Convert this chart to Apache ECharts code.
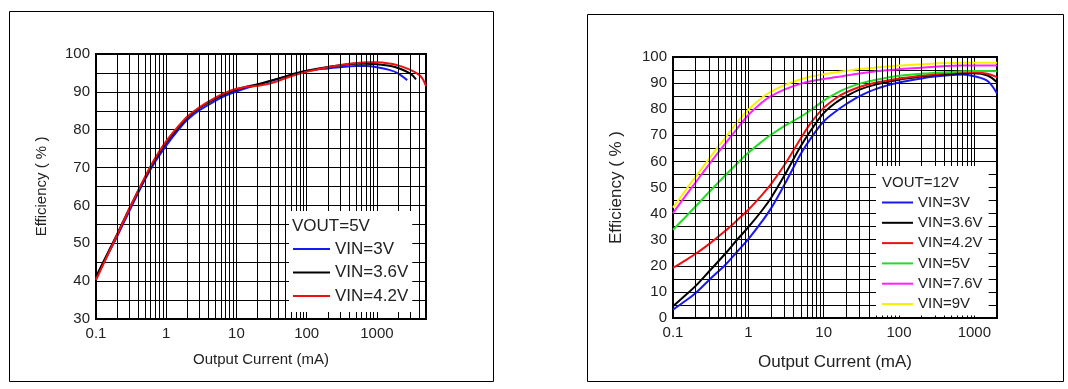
<!DOCTYPE html>
<html><head><meta charset="utf-8">
<script src="https://cdn.jsdelivr.net/npm/echarts@6/dist/echarts.min.js"></script>
<style>html,body{margin:0;padding:0;background:#fff}#c{width:1068px;height:389px}</style>
</head><body><div id="c"></div>
<script>
// ---------- Left chart: VOUT = 5V ----------
const leftCurrent = [0.1, 0.15, 0.2, 0.3, 0.5, 0.7, 1, 1.5, 2, 3, 5, 7, 10, 15, 20, 30, 50, 70, 100, 200, 300, 500, 700, 1000, 1500, 2000, 3000, 4000, 4500, 5000];
const left_VIN42 = [40.3, 47.3, 52.2, 59.2, 67.6, 72.6, 77.0, 81.0, 83.5, 86.0, 88.5, 89.8, 90.8, 91.4, 91.6, 92.2, 93.6, 94.5, 95.3, 96.5, 97.1, 97.6, 97.8, 97.8, 97.5, 97.0, 95.8, 94.5, 93.4, 91.5];
const leftCurrent36 = [0.1, 0.15, 0.2, 0.3, 0.5, 0.7, 1, 1.5, 2, 3, 5, 7, 10, 15, 20, 30, 50, 70, 100, 200, 300, 500, 700, 1000, 1500, 2000, 3000, 3600];
const left_VIN36 = [41.2, 47.8, 52.4, 59.3, 67.4, 72.3, 76.6, 80.6, 83.2, 85.8, 88.2, 89.5, 90.6, 91.5, 92.0, 92.9, 94.1, 94.9, 95.6, 96.6, 97.0, 97.4, 97.4, 97.3, 96.9, 96.3, 94.8, 93.3];
const leftCurrent3 = [0.1, 0.15, 0.2, 0.3, 0.5, 0.7, 1, 1.5, 2, 3, 5, 7, 10, 15, 20, 30, 50, 70, 100, 200, 300, 500, 700, 1000, 1500, 2000, 2700];
const left_VIN3 = [40.8, 47.3, 51.8, 58.6, 66.9, 71.6, 75.8, 80.0, 82.6, 85.2, 87.6, 89.0, 90.1, 91.2, 91.8, 92.8, 94.0, 94.8, 95.5, 96.2, 96.5, 96.8, 96.8, 96.5, 95.8, 94.9, 93.1];

// ---------- Right chart: VOUT = 12V ----------
const rightCurrent = [0.1, 0.15, 0.2, 0.3, 0.5, 0.7, 1, 1.5, 2, 3, 5, 7, 10, 15, 20, 30, 50, 100, 200, 300, 500, 700, 1000, 1500, 2000];
const right_VIN3  = [3.2, 6.8, 9.6, 14.5, 20.5, 25.2, 30.2, 36.8, 42.0, 51.0, 63.0, 69.5, 75.3, 79.5, 82.0, 85.0, 87.8, 90.2, 91.8, 92.5, 93.1, 93.3, 92.6, 90.8, 86.0];
const right_VIN36 = [4.5, 9.0, 12.3, 17.8, 24.8, 29.8, 34.8, 41.0, 46.0, 54.5, 66.0, 72.5, 78.5, 82.8, 85.0, 87.5, 89.5, 91.3, 92.5, 93.1, 93.6, 93.8, 93.8, 92.9, 90.3];
const right_VIN42 = [19.2, 22.3, 24.6, 28.3, 33.5, 37.3, 41.5, 47.0, 51.3, 58.5, 69.0, 75.3, 80.5, 84.5, 86.5, 88.5, 90.2, 91.8, 92.8, 93.4, 93.9, 94.2, 94.2, 93.6, 92.3];
const right_VIN5  = [33.8, 39.0, 42.8, 48.2, 54.8, 59.0, 63.3, 67.5, 70.2, 73.5, 77.2, 80.0, 83.3, 86.3, 88.0, 89.8, 91.3, 92.8, 93.6, 94.0, 94.3, 94.5, 94.6, 94.6, 94.5];
const right_VIN76 = [40.2, 47.2, 52.0, 58.8, 67.0, 72.3, 77.8, 82.5, 85.0, 87.5, 89.8, 90.8, 91.6, 92.3, 92.9, 93.7, 94.5, 95.3, 95.9, 96.3, 96.6, 96.7, 96.7, 96.7, 96.7];
const right_VIN9  = [42.3, 49.3, 54.2, 61.0, 69.3, 74.8, 79.8, 84.3, 86.7, 89.2, 91.5, 92.6, 93.4, 94.2, 94.7, 95.4, 96.0, 96.7, 97.2, 97.5, 97.7, 97.8, 97.8, 97.8, 97.8];

// axis / text
const leftXMax = 5000, rightXMax = 2000;
const leftYMin = 30, rightYMin = 0;
const xTitle = 'Output Current (mA)';
const yTitle = 'Efficiency ( % )';
const leftHeader = 'VOUT=5V', rightHeader = 'VOUT=12V';
const names = ['VIN=3V', 'VIN=3.6V', 'VIN=4.2V', 'VIN=5V', 'VIN=7.6V', 'VIN=9V'];
const colors = ['#1818f0', '#000000', '#ee1111', '#22dd22', '#ff22ff', '#f8f000'];

const FONT = '"Liberation Sans", Arial, sans-serif';
const TXT = '#222';

function minorValues(maxV) {
  const out = [];
  for (let d = 0.1; d < maxV; d *= 10) {
    for (let k = 2; k <= 9; k++) {
      const v = +(d * k).toPrecision(3);
      if (v < maxV) out.push({ xAxis: v });
    }
  }
  return out;
}
function pairs(xs, ys) { return xs.map((x, i) => [x, ys[i]]); }

function xAxisCfg(gi, maxV, labelSize, nameSize, nameGap, labelMargin) {
  return {
    type: 'log', logBase: 10, gridIndex: gi, min: 0.1, max: maxV,
    axisLine: { show: false }, axisTick: { show: false },
    axisLabel: {
      color: TXT, fontFamily: FONT, fontSize: labelSize, margin: labelMargin,
      showMaxLabel: false,
      formatter: v => { const l = Math.log10(v); return Math.abs(l - Math.round(l)) < 1e-6 ? String(Math.pow(10, Math.round(l))) : ''; }
    },
    splitLine: { show: true, lineStyle: { color: '#000', width: 1 } },
    name: xTitle, nameLocation: 'middle', nameGap: nameGap,
    nameTextStyle: { color: TXT, fontFamily: FONT, fontSize: nameSize }
  };
}
function yAxisCfg(gi, minV, labelSize, nameSize, nameGap) {
  return {
    type: 'value', gridIndex: gi, min: minV, max: 100, interval: 10,
    axisLine: { show: false }, axisTick: { show: false },
    axisLabel: { color: TXT, fontFamily: FONT, fontSize: labelSize, margin: 6 },
    splitLine: { show: true, lineStyle: { color: '#000', width: 1 } },
    minorTick: { show: false, splitNumber: 2 },
    minorSplitLine: { show: true, lineStyle: { color: '#000', width: 1 } },
    name: yTitle, nameLocation: 'middle', nameGap: nameGap,
    nameTextStyle: { color: TXT, fontFamily: FONT, fontSize: nameSize }
  };
}
function curve(name, ci, gi, data) {
  return {
    name, type: 'line', xAxisIndex: gi, yAxisIndex: gi, data,
    smooth: 0.35, symbol: 'none', z: 3,
    lineStyle: { color: colors[ci], width: 2 }, itemStyle: { color: colors[ci] }
  };
}
function gridLines(gi, maxV) {
  return {
    type: 'line', xAxisIndex: gi, yAxisIndex: gi, data: [[1, 50]], symbol: 'none',
    lineStyle: { opacity: 0 }, z: 1, silent: true,
    markLine: {
      silent: true, symbol: ['none', 'none'], label: { show: false }, animation: false,
      lineStyle: { type: 'solid', color: '#000', width: 1 },
      emphasis: { disabled: true },
      data: minorValues(maxV)
    }
  };
}

const chart = echarts.init(document.getElementById('c'), null, { renderer: 'canvas' });
chart.setOption({
  animation: false,
  backgroundColor: '#fff',
  grid: [
    { left: 96, top: 54, width: 330, height: 265, show: true, borderColor: '#000', borderWidth: 2, backgroundColor: 'transparent' },
    { left: 673, top: 57, width: 324, height: 261, show: true, borderColor: '#000', borderWidth: 2, backgroundColor: 'transparent' }
  ],
  xAxis: [
    xAxisCfg(0, leftXMax, 15, 15, 33, 7),
    xAxisCfg(1, rightXMax, 15, 17, 36, 7)
  ],
  yAxis: [
    yAxisCfg(0, leftYMin, 15, 15, 47),
    yAxisCfg(1, rightYMin, 15, 17, 48)
  ],
  legend: [
    {
      data: names.slice(0, 3), orient: 'vertical', left: 289, top: 211,
      selectedMode: false, icon: 'rect', itemWidth: 37, itemHeight: 2, itemGap: 3.5,
      backgroundColor: '#fff', padding: [28, 4, 6, 4], z: 10,
      textStyle: { color: TXT, fontFamily: FONT, fontSize: 17, lineHeight: 20 }
    },
    {
      data: names, orient: 'vertical', left: 876, top: 166,
      selectedMode: false, icon: 'rect', itemWidth: 31, itemHeight: 2, itemGap: 3.3,
      backgroundColor: '#fff', padding: [28, 6, 3, 6], z: 10,
      textStyle: { color: TXT, fontFamily: FONT, fontSize: 15, lineHeight: 17 }
    }
  ],
  graphic: [
    { type: 'rect', shape: { x: 9.5, y: 11.5, width: 484, height: 370 }, style: { fill: 'none', stroke: '#000', lineWidth: 1 }, z: 0, silent: true },
    { type: 'rect', shape: { x: 587.5, y: 14.5, width: 476, height: 367 }, style: { fill: 'none', stroke: '#000', lineWidth: 1 }, z: 0, silent: true },
    { type: 'text', left: 292, top: 218, z: 100, style: { text: leftHeader, fill: TXT, font: '17px ' + FONT } },
    { type: 'text', left: 882, top: 175, z: 100, style: { text: rightHeader, fill: TXT, font: '15px ' + FONT } }
  ],
  series: [
    gridLines(0, leftXMax),
    gridLines(1, rightXMax),
    curve('VIN=3V', 0, 0, pairs(leftCurrent3, left_VIN3)),
    curve('VIN=3.6V', 1, 0, pairs(leftCurrent36, left_VIN36)),
    curve('VIN=4.2V', 2, 0, pairs(leftCurrent, left_VIN42)),
    curve('VIN=3V', 0, 1, pairs(rightCurrent, right_VIN3)),
    curve('VIN=3.6V', 1, 1, pairs(rightCurrent, right_VIN36)),
    curve('VIN=4.2V', 2, 1, pairs(rightCurrent, right_VIN42)),
    curve('VIN=5V', 3, 1, pairs(rightCurrent, right_VIN5)),
    curve('VIN=7.6V', 4, 1, pairs(rightCurrent, right_VIN76)),
    curve('VIN=9V', 5, 1, pairs(rightCurrent, right_VIN9))
  ]
});
</script></body></html>
